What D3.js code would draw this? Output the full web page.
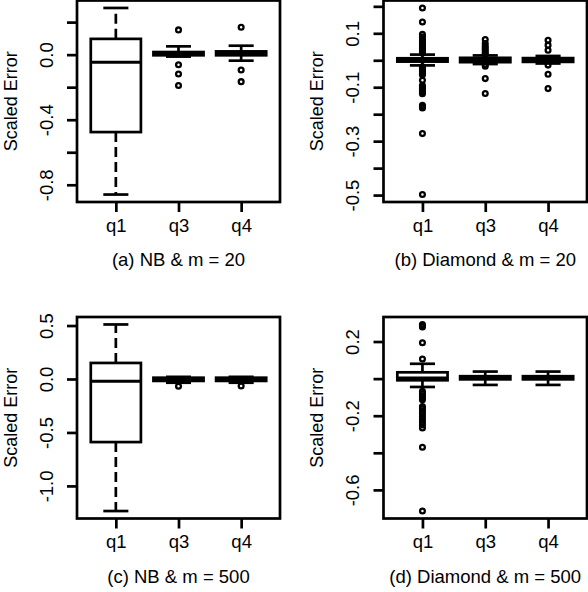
<!DOCTYPE html>
<html>
<head>
<meta charset="utf-8">
<script src="https://cdn.jsdelivr.net/npm/d3@7"></script>
<style>
  body { margin: 0; background: #fff; }
  svg { display: block; font-family: "Liberation Sans", Arial, Helvetica, sans-serif; }
</style>
</head>
<body>
<div id="chart"></div>
<script>
// categories on the x axis (same for every panel)
const categories = ["q1", "q3", "q4"];

// box stats per category: [lower whisker, Q1, median, Q3, upper whisker]
const statsNB20 = [
  [-0.86, -0.476, -0.047, 0.097, 0.287],
  [-0.012, -0.004, 0.006, 0.016, 0.051],
  [-0.037, -0.004, 0.008, 0.02, 0.055]
];
const outNB20 = [
  [],
  [0.152, -0.062, -0.119, -0.19],
  [0.168, -0.094, -0.166]
];

const statsDia20 = [
  [-0.019, -0.005, 0.0, 0.0074, 0.021],
  [-0.014, -0.007, 0.0, 0.009, 0.018],
  [-0.012, -0.006, 0.0, 0.008, 0.016]
];
const outDia20 = [
  [0.194, 0.142, 0.096, 0.086, 0.079, 0.072, 0.065, 0.058, 0.051, 0.044, 0.038, 0.032, 0.027,
   -0.024, -0.03, -0.036, -0.042, -0.048, -0.054, -0.074, -0.094, -0.1, -0.106, -0.112,
   -0.118, -0.124, -0.167, -0.172, -0.177, -0.272, -0.498],
  [0.077, 0.062, 0.052, 0.044, 0.036, 0.028, 0.021, -0.016, -0.022, -0.068, -0.123],
  [0.074, 0.056, 0.037, -0.018, -0.052, -0.105]
];

const statsNB500 = [
  [-1.235, -0.59, -0.02, 0.15, 0.51],
  [-0.035, -0.018, -0.003, 0.012, 0.02],
  [-0.035, -0.018, -0.003, 0.012, 0.02]
];
const outNB500 = [[], [-0.068], [-0.065]];

const statsDia500 = [
  [-0.045, -0.009, 0.004, 0.034, 0.08],
  [-0.034, -0.004, 0.004, 0.013, 0.038],
  [-0.034, -0.004, 0.004, 0.013, 0.038]
];
const outDia500 = [
  [0.292, 0.285, 0.278, 0.193, 0.106, -0.069, -0.08, -0.092, -0.103, -0.114,
   -0.15, -0.162, -0.175, -0.19, -0.205, -0.22, -0.235, -0.25, -0.266, -0.37, -0.714],
  [],
  []
];

// y ticks and their labels (R drops labels that would overlap)
const ticksNB20 = [-0.8, -0.6, -0.4, -0.2, 0, 0.2];
const labelsNB20 = ["-0.8", "", "-0.4", "", "0.0", ""];
const ticksDia20 = [-0.5, -0.4, -0.3, -0.2, -0.1, 0, 0.1, 0.2];
const labelsDia20 = ["-0.5", "", "-0.3", "", "-0.1", "", "0.1", ""];
const ticksNB500 = [-1, -0.5, 0, 0.5];
const labelsNB500 = ["-1.0", "-0.5", "0.0", "0.5"];
const ticksDia500 = [-0.6, -0.4, -0.2, 0, 0.2];
const labelsDia500 = ["-0.6", "", "-0.2", "", "0.2"];

const captions = ["(a) NB & m = 20", "(b) Diamond & m = 20", "(c) NB & m = 500", "(d) Diamond & m = 500"];

const W = 588, H = 592;
const LW = 2.7;
const FONT = 18.5;

const panels = [
  { stats: statsNB20, out: outNB20, ticks: ticksNB20, labels: labelsNB20, cap: captions[0], x0: 77, x1: 280, y0: 0.5, y1: 202 },
  { stats: statsDia20, out: outDia20, ticks: ticksDia20, labels: labelsDia20, cap: captions[1], x0: 383.5, x1: 587, y0: 0.5, y1: 202 },
  { stats: statsNB500, out: outNB500, ticks: ticksNB500, labels: labelsNB500, cap: captions[2], x0: 77, x1: 280, y0: 317, y1: 518.5 },
  { stats: statsDia500, out: outDia500, ticks: ticksDia500, labels: labelsDia500, cap: captions[3], x0: 383.5, x1: 587, y0: 317, y1: 518.5 }
];

const svg = d3.select("#chart").append("svg")
  .attr("width", W)
  .attr("height", H);

panels.forEach(p => {
  // R style range: data extent padded by 4%
  const all = p.stats.flat().concat(p.out.flat());
  const lo = d3.min(all), hi = d3.max(all);
  const pad = (hi - lo) * 0.04;

  const y = d3.scaleLinear().domain([lo - pad, hi + pad]).range([p.y1, p.y0]);
  const x = d3.scalePoint().domain(categories).range([p.x0, p.x1]).padding(0.62);
  const step = x.step();
  const bw = step * 0.8, cw = step * 0.4;

  const g = svg.append("g");

  // y axis
  const yAxis = g.append("g")
    .attr("transform", `translate(${p.x0},0)`)
    .call(d3.axisLeft(y).tickValues(p.ticks).tickSize(10)
      .tickFormat((d, i) => p.labels[i]));
  yAxis.select(".domain").remove();
  yAxis.selectAll(".tick line").attr("stroke-width", LW);
  yAxis.selectAll(".tick text")
    .attr("x", 0).attr("dy", 0)
    .attr("transform", "translate(-24.5,0) rotate(-90)")
    .attr("text-anchor", "middle")
    .attr("font-size", FONT)
    .attr("font-family", null)
    .attr("fill", "#000");

  // x axis
  const xAxis = g.append("g")
    .attr("transform", `translate(0,${p.y1})`)
    .call(d3.axisBottom(x).tickSize(10).tickPadding(6.5));
  xAxis.select(".domain").remove();
  xAxis.selectAll(".tick line").attr("stroke-width", LW);
  xAxis.selectAll(".tick text")
    .attr("font-size", FONT)
    .attr("font-family", null)
    .attr("fill", "#000");

  // axis title and caption
  g.append("text")
    .attr("transform", `translate(${p.x0 - 60.5},${(p.y0 + p.y1) / 2}) rotate(-90)`)
    .attr("text-anchor", "middle")
    .attr("font-size", 18)
    .text("Scaled Error");

  g.append("text")
    .attr("x", (p.x0 + p.x1) / 2)
    .attr("y", p.y1 + 64)
    .attr("text-anchor", "middle")
    .attr("font-size", FONT)
    .text(p.cap);

  // boxes
  const boxes = g.selectAll(".box")
    .data(p.stats.map((s, i) => ({ cat: categories[i], s: s, out: p.out[i] })))
    .enter().append("g")
    .attr("class", "box")
    .attr("stroke", "#000")
    .attr("stroke-width", LW)
    .attr("fill", "none");

  // dashed whiskers, drawn from the box outward
  boxes.append("line")
    .attr("x1", d => x(d.cat)).attr("x2", d => x(d.cat))
    .attr("y1", d => y(d.s[1])).attr("y2", d => y(d.s[0]))
    .attr("stroke-dasharray", "10,5");
  boxes.append("line")
    .attr("x1", d => x(d.cat)).attr("x2", d => x(d.cat))
    .attr("y1", d => y(d.s[3])).attr("y2", d => y(d.s[4]))
    .attr("stroke-dasharray", "10,5");

  // whisker caps
  [0, 4].forEach(k => {
    boxes.append("line")
      .attr("x1", d => x(d.cat) - cw / 2).attr("x2", d => x(d.cat) + cw / 2)
      .attr("y1", d => y(d.s[k])).attr("y2", d => y(d.s[k]));
  });

  boxes.append("rect")
    .attr("x", d => x(d.cat) - bw / 2)
    .attr("width", bw)
    .attr("y", d => y(d.s[3]))
    .attr("height", d => y(d.s[1]) - y(d.s[3]))
    .attr("fill", "#fff");

  boxes.append("line")
    .attr("x1", d => x(d.cat) - bw / 2).attr("x2", d => x(d.cat) + bw / 2)
    .attr("y1", d => y(d.s[2])).attr("y2", d => y(d.s[2]))
    .attr("stroke-width", 3);

  // outliers
  boxes.selectAll("circle")
    .data(d => d.out.map(v => ({ cat: d.cat, v: v })))
    .enter().append("circle")
    .attr("cx", d => x(d.cat))
    .attr("cy", d => y(d.v))
    .attr("r", 2.4)
    .attr("stroke-width", 2.3);

  // frame
  g.append("rect")
    .attr("x", p.x0).attr("y", p.y0)
    .attr("width", p.x1 - p.x0).attr("height", p.y1 - p.y0)
    .attr("fill", "none")
    .attr("stroke", "#000")
    .attr("stroke-width", LW);
});
</script>
</body>
</html>
